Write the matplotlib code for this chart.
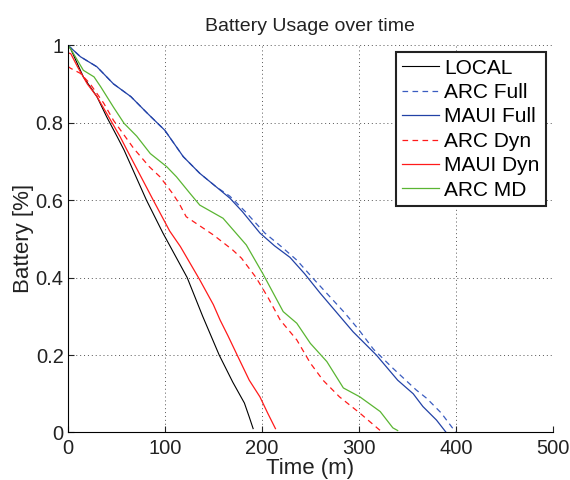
import matplotlib
matplotlib.use("Agg")
import matplotlib.pyplot as plt

plt.rcParams['font.family'] = ['Liberation Sans', 'DejaVu Sans']

# battery level (fraction) against time in minutes
local_t = [0, 3, 16, 30, 40, 51, 58, 81, 98, 123, 139, 156, 170, 182, 187, 191]
local_b = [1.0, 0.99, 0.918, 0.867, 0.815, 0.763, 0.729, 0.60, 0.515, 0.40, 0.30, 0.20, 0.13, 0.076, 0.04, 0.01]

arcfull_t = [0, 13, 30, 47, 65, 82, 100, 119, 136, 153, 167, 183, 203, 220, 236, 252, 267, 285, 300, 315, 335, 359, 370, 385, 400]
arcfull_b = [1.0, 0.97, 0.944, 0.90, 0.867, 0.824, 0.78, 0.712, 0.669, 0.634, 0.61, 0.57, 0.515, 0.48, 0.445, 0.40, 0.359, 0.31, 0.265, 0.215, 0.166, 0.11, 0.088, 0.05, 0.0]

mauifull_t = [0, 13, 30, 47, 65, 82, 100, 119, 136, 153, 167, 180, 198, 213, 229, 244, 260, 277, 294, 318, 340, 356, 366, 380, 390]
mauifull_b = [1.0, 0.97, 0.944, 0.90, 0.867, 0.824, 0.78, 0.712, 0.669, 0.634, 0.605, 0.57, 0.515, 0.482, 0.452, 0.41, 0.36, 0.31, 0.26, 0.20, 0.135, 0.10, 0.067, 0.032, 0.0]

arcdyn_t = [0, 3, 13, 23, 37, 47, 68, 84, 95, 108, 115, 122, 150, 170, 179, 194, 206, 219, 236, 250, 263, 280, 301, 322]
arcdyn_b = [0.945, 0.94, 0.927, 0.90, 0.85, 0.806, 0.733, 0.686, 0.66, 0.617, 0.59, 0.557, 0.51, 0.471, 0.45, 0.40, 0.35, 0.29, 0.239, 0.179, 0.135, 0.092, 0.05, 0.005]

mauidyn_t = [0, 3, 10, 20, 30, 40, 54, 61, 88, 105, 116, 136, 150, 157, 165, 177, 187, 198, 206, 214]
mauidyn_b = [0.98, 0.978, 0.944, 0.90, 0.867, 0.824, 0.763, 0.729, 0.60, 0.52, 0.48, 0.394, 0.33, 0.29, 0.25, 0.187, 0.135, 0.092, 0.05, 0.01]

arcmd_t = [0, 3, 16, 27, 34, 47, 58, 71, 85, 102, 112, 126, 136, 160, 184, 201, 222, 236, 250, 267, 284, 301, 322, 335, 340]
arcmd_b = [1.0, 0.99, 0.935, 0.918, 0.892, 0.84, 0.798, 0.765, 0.72, 0.686, 0.66, 0.617, 0.587, 0.553, 0.484, 0.41, 0.312, 0.282, 0.23, 0.183, 0.115, 0.092, 0.054, 0.012, 0.005]

fig = plt.figure(figsize=(5.7, 4.8), dpi=100)
ax = fig.add_axes([0.119, 0.099, 0.851, 0.807])

dash = (0, (4.5, 3.5))
ax.plot(local_t, local_b, color='black', lw=0.8, label='LOCAL')
ax.plot(arcfull_t, arcfull_b, color='#3a5cc0', lw=0.9, linestyle=dash, label='ARC Full')
ax.plot(mauifull_t, mauifull_b, color='#2242a6', lw=0.9, label='MAUI Full')
ax.plot(arcdyn_t, arcdyn_b, color='#ff1a1a', lw=0.9, linestyle=dash, label='ARC Dyn')
ax.plot(mauidyn_t, mauidyn_b, color='#ff1a1a', lw=0.9, label='MAUI Dyn')
ax.plot(arcmd_t, arcmd_b, color='#5ab532', lw=0.9, label='ARC MD')

ax.set_xlim(0, 500)
ax.set_ylim(0, 1)
ax.set_xticks([0, 100, 200, 300, 400, 500])
ax.set_yticks([0, 0.2, 0.4, 0.6, 0.8, 1])
ax.set_yticklabels(['0', '0.2', '0.4', '0.6', '0.8', '1'])
ax.tick_params(direction='in', length=4, labelsize=14.5, colors='#222222')
ax.tick_params(axis='x', pad=5)
ax.tick_params(axis='y', pad=3)
ax.grid(True, linestyle=(0, (1, 3)), color='#555555', lw=0.7)
ax.spines['top'].set_visible(False)
ax.spines['right'].set_visible(False)

ax.set_title('Battery Usage over time', fontsize=14, color='#222222', pad=10)
ax.set_xlabel('Time (m)', fontsize=16, color='#222222', labelpad=-0.5)
ax.set_ylabel('Battery [%]', fontsize=16, color='#222222', labelpad=1)

leg = ax.legend(loc='upper right', fontsize=15, handlelength=1.75, handletextpad=0.25,
                labelspacing=0.26, borderpad=0.3, borderaxespad=0.35,
                fancybox=False, framealpha=1)
leg.get_frame().set_edgecolor('#222222')
leg.get_frame().set_linewidth(1.5)

fig.savefig('out.png', dpi=100)
